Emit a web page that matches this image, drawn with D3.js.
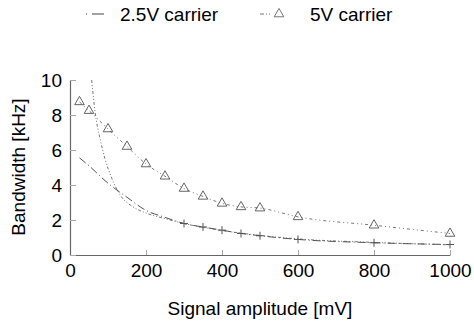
<!DOCTYPE html>
<html>
<head>
<meta charset="utf-8">
<script src="https://cdn.jsdelivr.net/npm/d3@7"></script>
<style>
  body { margin: 0; background: #fff; }
  svg { font-family: "Liberation Sans", Arial, sans-serif; }
</style>
</head>
<body>
<div id="chart"></div>
<script>
// signal amplitude [mV]
var amplitude = [25, 50, 100, 150, 200, 250, 300, 350, 400, 450, 500, 600, 800, 1000];
// bandwidth [kHz]
var carrier25 = [5.55, 5.1, 4.1, 3.3, 2.55, 2.15, 1.8, 1.6, 1.42, 1.23, 1.1, 0.89, 0.7, 0.6];
var carrier5 = [8.75, 8.25, 7.2, 6.2, 5.2, 4.5, 3.8, 3.35, 2.95, 2.75, 2.68, 2.18, 1.7, 1.23];
// steep fit curve
var fitX = [57, 66, 79, 92, 110, 132, 166, 200, 250, 300, 400, 500, 600, 800, 1000];
var fitY = [10, 8.17, 6.65, 5.5, 4.38, 3.43, 2.75, 2.4, 2.08, 1.8, 1.4, 1.12, 0.92, 0.72, 0.58];
var xTicks = [0, 200, 400, 600, 800, 1000];
var yTicks = [0, 2, 4, 6, 8, 10];
var legendLabels = ["2.5V carrier", "5V carrier"];

var cfg = { width: 474, height: 326, left: 70, right: 450, top: 80, bottom: 255, font: "19px" };

var svg = d3.select("#chart").append("svg")
    .attr("width", cfg.width)
    .attr("height", cfg.height);

var x = d3.scaleLinear().domain([0, 1000]).range([cfg.left, cfg.right]);
var y = d3.scaleLinear().domain([0, 10]).range([cfg.bottom, cfg.top]);

// axes
var xAxis = svg.append("g")
    .attr("transform", "translate(0," + cfg.bottom + ")")
    .call(d3.axisBottom(x).tickValues(xTicks).tickFormat(d3.format("d"))
      .tickSizeInner(-5).tickSizeOuter(0).tickPadding(7));
var yAxis = svg.append("g")
    .attr("transform", "translate(" + cfg.left + ",0)")
    .call(d3.axisLeft(y).tickValues(yTicks).tickSizeInner(-6).tickSizeOuter(0).tickPadding(8));

[xAxis, yAxis].forEach(function (a) {
  a.select(".domain").attr("stroke", "#666").attr("stroke-width", 1.2);
  a.selectAll(".tick line").attr("stroke", "#aaa");
  a.selectAll(".tick text").attr("fill", "#000").style("font-size", cfg.font);
});
xAxis.selectAll(".tick text").attr("dy", "0.8em");

var line = d3.line()
    .x(function (d) { return x(d[0]); })
    .y(function (d) { return y(d[1]); })
    .curve(d3.curveMonotoneX);

var fitData = fitX.map(function (v, i) { return [v, fitY[i]]; });
var d25 = amplitude.map(function (v, i) { return [v, carrier25[i]]; });
var d5 = amplitude.map(function (v, i) { return [v, carrier5[i]]; });

svg.append("path")
    .attr("d", line(fitData))
    .attr("fill", "none")
    .attr("stroke", "#777")
    .attr("stroke-width", 1)
    .style("stroke-dasharray", "3, 2, 1, 2, 1, 2");

svg.append("path")
    .attr("d", line(d25))
    .attr("fill", "none")
    .attr("stroke", "#555")
    .attr("stroke-width", 1)
    .style("stroke-dasharray", "8, 3, 1, 3");

svg.append("path")
    .attr("d", line(d5))
    .attr("fill", "none")
    .attr("stroke", "#777")
    .attr("stroke-width", 1)
    .style("stroke-dasharray", "3, 3, 1, 3, 1, 3");

// markers
var tri = d3.symbol().type(d3.symbolTriangle).size(40);
svg.selectAll(".tri")
    .data(d5).enter()
    .append("path")
    .attr("class", "tri")
    .attr("d", tri)
    .attr("transform", function (d) { return "translate(" + x(d[0]) + "," + y(d[1]) + ")"; })
    .attr("fill", "none")
    .attr("stroke", "#555")
    .attr("stroke-width", 0.9);

svg.selectAll(".plus")
    .data(d25.filter(function (d) { return d[0] >= 300; })).enter()
    .append("g")
    .attr("class", "plus")
    .attr("transform", function (d) { return "translate(" + x(d[0]) + "," + y(d[1]) + ")"; })
    .each(function () {
      var g = d3.select(this);
      g.append("line").attr("x1", -4).attr("x2", 4).attr("stroke", "#555");
      g.append("line").attr("y1", -4).attr("y2", 4).attr("stroke", "#555");
    });

// axis titles
svg.append("text")
    .attr("x", 260)
    .attr("y", 315)
    .attr("text-anchor", "middle")
    .style("font-size", cfg.font)
    .text("Signal amplitude [mV]");

svg.append("text")
    .attr("transform", "translate(25,167) rotate(-90)")
    .attr("text-anchor", "middle")
    .style("font-size", cfg.font)
    .text("Bandwidth [kHz]");

// legend
var legend = svg.append("g");
var lg1 = legend.append("g");
lg1.append("line").attr("x1", 86).attr("x2", 104).attr("y1", 14).attr("y2", 14)
    .attr("stroke", "#444").style("stroke-dasharray", "1, 5, 12");
lg1.append("text").attr("x", 120).attr("y", 21).style("font-size", cfg.font).text(legendLabels[0]);

var lg2 = legend.append("g");
lg2.append("line").attr("x1", 260).attr("x2", 273).attr("y1", 14).attr("y2", 14)
    .attr("stroke", "#777").style("stroke-dasharray", "4, 2, 1, 2, 1");
lg2.append("path").attr("d", tri).attr("transform", "translate(279,14)")
    .attr("fill", "none").attr("stroke", "#666").attr("stroke-width", 0.9);
lg2.append("text").attr("x", 310).attr("y", 21).style("font-size", cfg.font).text(legendLabels[1]);
</script>
</body>
</html>
